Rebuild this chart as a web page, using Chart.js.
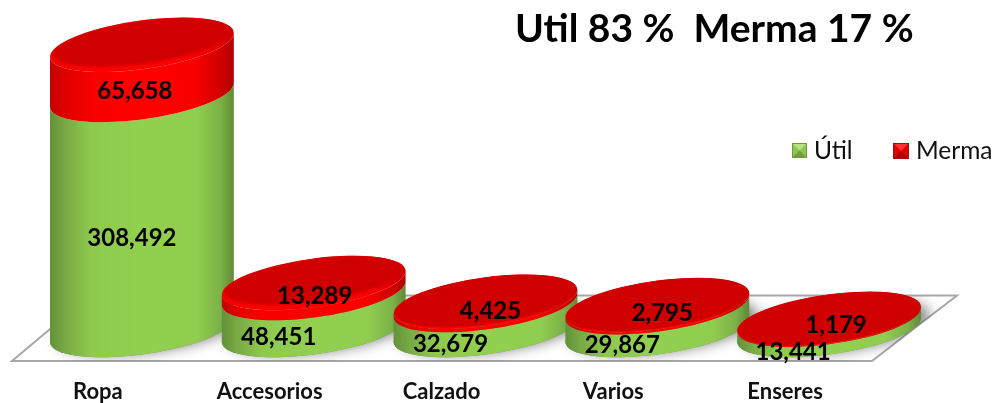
<!DOCTYPE html>
<html><head><meta charset="utf-8">
<style>html,body{margin:0;padding:0;background:#fff}#w{width:1007px;height:403px;position:relative}</style>
<script src="https://cdn.jsdelivr.net/npm/chart.js@4"></script>
</head><body><div id="w"><canvas id="c"></canvas></div>
<script>
const categories = ["Ropa","Accesorios","Calzado","Varios","Enseres"];
const util = [308492,48451,32679,29867,13441];
const merma = [65658,13289,4425,2795,1179];
const seriesNames = ["Útil","Merma"];
const titleText = "Util 83 %  Merma 17 %";

// label placement relative to each bar segment's middle
const utilLabelDx = [-10,-35,-35,-35,-36];
const utilLabelDy = [26,26,27,27,27];
const mermaLabelDx = [-7,1,5,5,7];
const mermaLabelDy = [21,8.5,8,7,6];

const FONT = "Lato";
const SKEW = 0.13, EY = 24.5;

function hGrad(ctx,x0,x1,stops){
  const g = ctx.createLinearGradient(x0,0,x1,0);
  stops.forEach(s=>g.addColorStop(s[0],s[1]));
  return g;
}
const greenStops=[[0,"#64913a"],[.08,"#76a844"],[.22,"#8ec94e"],[.5,"#92d050"],[.8,"#90cd4f"],[.93,"#7bb047"],[1,"#5f8a36"]];
const redStops=[[0,"#c40000"],[.1,"#e40000"],[.25,"#fa0000"],[.5,"#ff0000"],[.78,"#fa0000"],[.92,"#d40000"],[1,"#b00000"]];

function sheared(ctx,cx,cy,fn){
  ctx.save();
  ctx.transform(1,-SKEW,0,1,cx,cy);
  fn();
  ctx.restore();
}
function side(ctx,cx,top,h,rx,stops){
  sheared(ctx,cx,top,()=>{
    ctx.beginPath();
    ctx.moveTo(-rx,0);
    ctx.lineTo(-rx,h);
    ctx.ellipse(0,h,rx,EY,0,Math.PI,0,true);
    ctx.lineTo(rx,0);
    ctx.ellipse(0,0,rx,EY,0,0,Math.PI,false);
    ctx.closePath();
    ctx.fillStyle=hGrad(ctx,-rx,rx,stops);
    ctx.fill();
  });
}
function topFace(ctx,cx,top,rx,rim){
  sheared(ctx,cx,top,()=>{
    ctx.beginPath();
    ctx.ellipse(0,0,rx,EY,0,0,Math.PI*2);
    ctx.fillStyle=hGrad(ctx,-rx,rx,[[0,"#f40000"],[.25,"#ff0000"],[.8,"#fa0000"],[1,"#d00000"]]);
    ctx.fill();
    ctx.clip();
    ctx.filter="blur("+(rim*0.3)+"px)";
    ctx.beginPath();
    ctx.ellipse(0,-rim*0.5,rx-rim*0.4,EY-rim*0.4,0,0,Math.PI*2);
    ctx.fillStyle="#d00000";
    ctx.fill();
    ctx.filter="none";
  });
}
function bevelBox(ctx,x,y,s,base,light,dark,lo){
  ctx.fillStyle=base;ctx.fillRect(x,y,s,s);
  const m=s/2;
  ctx.fillStyle=light;ctx.beginPath();ctx.moveTo(x,y);ctx.lineTo(x+s,y);ctx.lineTo(x+m,y+m);ctx.closePath();ctx.fill();
  ctx.fillStyle=lo;ctx.beginPath();ctx.moveTo(x,y+s);ctx.lineTo(x+s,y+s);ctx.lineTo(x+m,y+m);ctx.closePath();ctx.fill();
  ctx.strokeStyle=dark;ctx.lineWidth=1;ctx.strokeRect(x+.5,y+.5,s-1,s-1);
}

const scene = {
  id:"scene",
  beforeDatasetsDraw(chart){
    const ctx=chart.ctx;
    const g=chart.getDatasetMeta(0).data, r=chart.getDatasetMeta(1).data;
    const floorPts=[[12,361],[872,361],[957,295.5],[90,295.5]];
    ctx.save();
    ctx.beginPath();
    floorPts.forEach((p,i)=>i?ctx.lineTo(p[0],p[1]):ctx.moveTo(p[0],p[1]));
    ctx.closePath();
    ctx.fillStyle="#fff";ctx.fill();
    ctx.strokeStyle="#a8a8a8";ctx.lineWidth=2;ctx.lineJoin="miter";ctx.stroke();
    ctx.restore();

    g.forEach((el,i)=>{
      const rx=el.width/2, cx=el.x, red=r[i];
      const base=el.base;
      // soft floor shadow
      ctx.save();
      ctx.beginPath();
      floorPts.forEach((p,k)=>k?ctx.lineTo(p[0],p[1]):ctx.moveTo(p[0],p[1]));
      ctx.closePath();ctx.clip();
      ctx.shadowColor="rgba(0,0,0,.55)";ctx.shadowBlur=14;ctx.shadowOffsetX=8;ctx.shadowOffsetY=-3;
      sheared(ctx,cx,base,()=>{
        ctx.beginPath();ctx.ellipse(0,0,rx,EY,0,0,Math.PI*2);ctx.fillStyle="#808080";ctx.fill();
      });
      ctx.restore();
      side(ctx,cx,el.y,base-el.y,rx,greenStops);
      const hr=red.base-red.y;
      side(ctx,cx,red.y,hr,rx,redStops);
      topFace(ctx,cx,red.y,rx,Math.min(6,hr*0.6));
    });

    // value labels
    ctx.save();
    ctx.fillStyle="#000";ctx.textAlign="center";ctx.textBaseline="middle";
    ctx.font="bold 24px "+FONT;
    g.forEach((el,i)=>{
      ctx.fillText(util[i].toLocaleString("en-US"),el.x+utilLabelDx[i],(el.y+el.base)/2+utilLabelDy[i]);
      const red=r[i];
      ctx.fillText(merma[i].toLocaleString("en-US"),red.x+mermaLabelDx[i],(red.y+red.base)/2+mermaLabelDy[i]);
    });
    // title
    ctx.font="bold 39px "+FONT;ctx.textAlign="left";
    ctx.fillText(titleText,515,29);
    // legend
    ctx.font="24.5px "+FONT;
    bevelBox(ctx,792,143,15,"#8cc652","#b7e07e","#6f9a3f","#6e9e40");
    ctx.fillStyle="#111";ctx.fillText(seriesNames[0],814,151);
    bevelBox(ctx,893,143,16,"#e00000","#ff3030","#a81010","#b00000");
    ctx.fillStyle="#111";ctx.fillText(seriesNames[1],916,151);
    ctx.restore();
    return false;
  }
};

new Chart(document.getElementById("c"),{
  type:"bar",
  data:{labels:categories,datasets:[
    {label:seriesNames[0],data:util,backgroundColor:"#92d050",barPercentage:1.07,categoryPercentage:1},
    {label:seriesNames[1],data:merma,backgroundColor:"#ff0000",barPercentage:1.07,categoryPercentage:1}
  ]},
  options:{
    responsive:true,maintainAspectRatio:false,animation:false,
    layout:{padding:{left:56,right:92,top:0,bottom:0}},
    plugins:{legend:{display:false},tooltip:{enabled:false}},
    scales:{
      x:{stacked:true,grid:{display:false,drawTicks:false},border:{display:false},
        afterFit(s){s.height=73;},
        ticks:{autoSkip:false,maxRotation:0,minRotation:0,labelOffset:-44,padding:49,color:"#111",font:{family:FONT,weight:"bold",size:22}}},
      y:{stacked:true,display:false,min:0,max:433000}
    }
  },
  plugins:[scene]
});
</script></body></html>
